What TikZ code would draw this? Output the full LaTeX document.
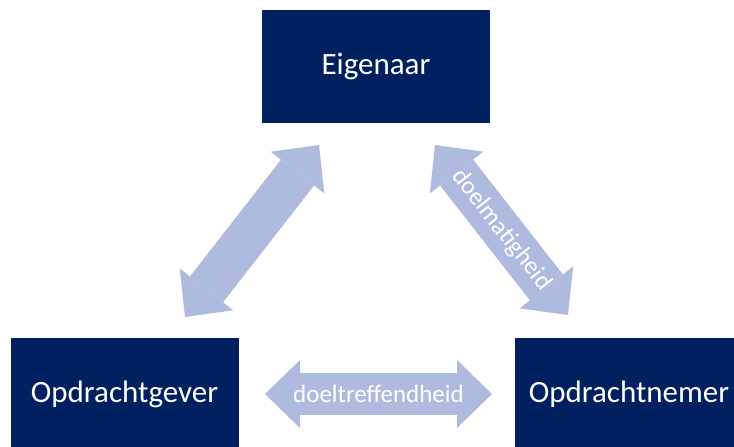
\documentclass[tikz,border=0pt]{standalone}
\usepackage{fontspec}
\setmainfont{Carlito}
\usetikzlibrary{arrows.meta}
\definecolor{navy}{HTML}{002060}
\definecolor{lavender}{RGB}{175,187,222}
\tikzset{
	party/.style={fill=navy, text=white, minimum width=228pt, minimum height=113pt, inner sep=0pt, font=\fontsize{31}{37}\selectfont},
	relation/.style={draw=lavender, line width=42pt, {Triangle[length=35pt, width=68pt, line width=0pt]}-{Triangle[length=35pt, width=68pt, line width=0pt]}},
	tag/.style={text=white, font=\fontsize{25}{30}\selectfont}
}
\begin{document}
\begin{tikzpicture}[x=1pt, y=-1pt]
	\useasboundingbox (0,0) rectangle (734,447);
	\node[party] (eig) at (376, 66.5) {Eigenaar};
	\node[party] (gever) at (124.5, 394.5) {Opdrachtgever};
	\node[party] (nemer) at (629, 394.5) {Opdrachtnemer};
	\coordinate (gUp) at (185, 317);
	\coordinate (eLeft) at (319, 145);
	\coordinate (eRight) at (435, 145);
	\coordinate (nUp) at (568, 315);
	\coordinate (gSide) at (265, 394);
	\coordinate (nSide) at (492, 394);
	\draw[relation] (gUp) -- (eLeft);
	\draw[relation] (eRight) -- node[tag, sloped] {doelmatigheid} (nUp);
	\draw[relation] (gSide) -- node[tag] {doeltreffendheid} (nSide);
\end{tikzpicture}
\end{document}
